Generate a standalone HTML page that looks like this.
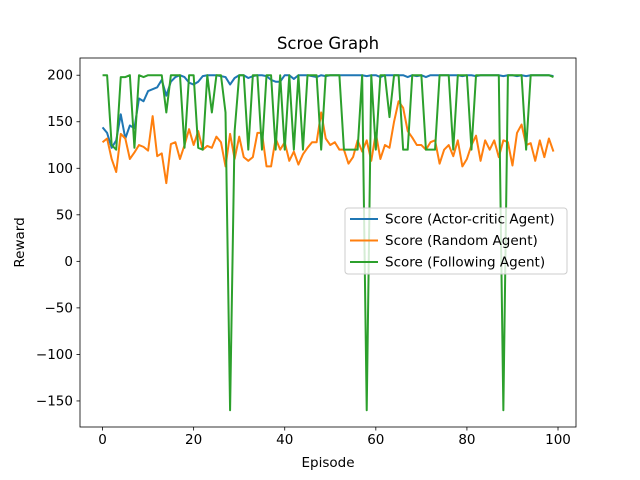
<!DOCTYPE html>
<html><head><meta charset="utf-8"><style>
body{margin:0;background:#fff}
svg{display:block;font-family:"DejaVu Sans","Liberation Sans",sans-serif}
</style></head><body>
<svg id="chart" width="640" height="480"></svg>
<script>
const episodes = Array.from({length:100},(_,i)=>i);
const actorCritic = [144,138,122,130,158,132,146,143,175,172,
183,185,187,195,178,193,198,200,198,192,
190,193,199,200,200,200,199,198,190,197,
200,200,197,199,200,200,199,195,193,193,
200,200,196,200,200,200,199,198,200,199,
200,200,200,200,200,200,200,200,199,200,
200,198,200,200,200,200,200,198,200,199,
200,198,200,200,200,200,200,200,200,199,
200,200,199,200,200,200,200,200,199,200,
200,199,200,199,200,200,200,200,200,199];
const randomAgent = [128,132,110,96,137,132,110,117,125,123,
119,156,113,116,84,126,128,110,125,142,
125,140,120,124,122,134,128,102,137,110,
134,112,108,112,138,138,102,102,132,120,
128,108,118,104,115,122,128,128,160,132,
125,128,120,120,105,112,130,118,130,108,
138,110,125,122,150,172,165,140,133,125,
125,120,128,130,105,120,125,113,130,102,
110,125,135,108,130,120,130,112,130,128,
103,138,147,125,127,108,130,112,132,118];
const followingAgent = [200,200,125,120,198,198,200,122,200,198,
200,200,200,200,160,200,200,200,122,200,
200,122,120,200,160,200,200,160,-160,140,
200,200,120,200,200,120,200,200,120,200,
120,200,120,200,120,200,200,200,120,200,
200,200,200,120,120,120,120,200,-160,200,
120,200,200,155,200,200,120,120,200,200,
200,120,120,120,200,200,200,120,200,200,
200,120,200,200,200,200,200,200,-160,200,
200,200,200,120,200,200,200,200,200,198];
const xTicks = [0,20,40,60,80,100];
const yTicks = [-150,-100,-50,0,50,100,150,200];
const seriesNames = ["Score (Actor-critic Agent)","Score (Random Agent)","Score (Following Agent)"];
const colors = ["#1f77b4","#ff7f0e","#2ca02c"];

const L=80,R=576,T=58,B=427;
const xMin=-4.95,xMax=103.95,yMin=-178,yMax=218.5;
const sx=v=>L+(v-xMin)/(xMax-xMin)*(R-L);
const sy=v=>B-(v-yMin)/(yMax-yMin)*(B-T);
const svg=document.getElementById('chart');
const NS='http://www.w3.org/2000/svg';
function mk(tag,attrs,parent){const e=document.createElementNS(NS,tag);for(const k in attrs)e.setAttribute(k,attrs[k]);(parent||svg).appendChild(e);return e;}

const xt=mk('g',{});


xTicks.forEach(v=>{
  mk('line',{x1:sx(v),x2:sx(v),y1:B,y2:B+3.5,stroke:'#000','stroke-width':0.8},xt);
  const t=mk('text',{x:sx(v),y:B+17,'text-anchor':'middle','font-size':'13.5',fill:'#000'},xt);
  
  
  t.textContent=v;
});
const yt=mk('g',{});


yTicks.forEach(v=>{
  mk('line',{x1:L-3.5,x2:L,y1:sy(v),y2:sy(v),stroke:'#000','stroke-width':0.8},yt);
  const t=mk('text',{x:L-7,y:sy(v)+4.5,'text-anchor':'end','font-size':'13.5',fill:'#000'},yt);
  
  
  t.textContent=v<0?'\u2212'+(-v):v;
});

[actorCritic,randomAgent,followingAgent].forEach((arr,si)=>{
  const p=mk('polyline',{points:arr.map((v,i)=>sx(episodes[i])+','+sy(v)).join(' '),fill:'none',stroke:colors[si],'stroke-width':2,'stroke-linejoin':'round'});
  
  
});

const frame=mk('rect',{x:L,y:T,width:R-L,height:B-T,fill:'none',stroke:'#000','stroke-width':0.8});



const title=mk('text',{x:(L+R)/2,y:49,'text-anchor':'middle','font-size':'16.5',fill:'#000'});


title.textContent='Scroe Graph';
const xl=mk('text',{x:(L+R)/2,y:467,'text-anchor':'middle','font-size':'13.5',fill:'#000'});


xl.textContent='Episode';
const yl=mk('text',{x:24,y:(T+B)/2,'text-anchor':'middle','font-size':'13.5',fill:'#000',transform:'rotate(-90 24 '+((T+B)/2)+')'});


yl.textContent='Reward';

const lg=mk('g',{});


mk('rect',{x:345,y:208,width:222,height:66,rx:3,fill:'#fff','fill-opacity':0.8,stroke:'#ccc','stroke-width':1},lg);
seriesNames.forEach((n,i)=>{
  const y=219+i*21.5;
  const g=mk('g',{},lg);
  
  
  mk('line',{x1:350,x2:378,y1:y,y2:y,stroke:colors[i],'stroke-width':2},g);
  const t=mk('text',{x:385,y:y+4.5,'font-size':'13.5',fill:'#000'},g);
  t.textContent=n;
});
</script>
</body></html>
